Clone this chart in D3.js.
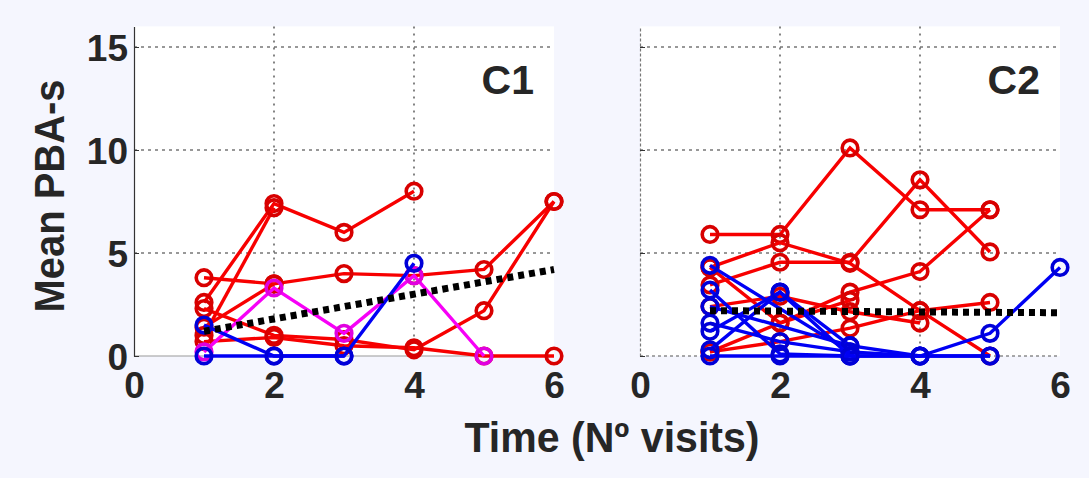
<!DOCTYPE html>
<html>
<head>
<meta charset="utf-8">
<script src="https://cdn.jsdelivr.net/npm/d3@7"></script>
<style>
  body { margin: 0; background: #f5f6fe; }
  svg { display: block; font-family: "Liberation Sans", Arial, sans-serif; }
</style>
</head>
<body>
<svg width="1089" height="478"></svg>
<script>
const visits = [1, 2, 3, 4, 5, 6];
const xTicks = [0, 2, 4, 6];
const yTicks = [0, 5, 10, 15];

// C1 panel, one row per patient, null = no visit
const c1Red = [
  [3.8, 3.5, 4.0, 3.9, 4.2, 7.5],
  [2.6, 7.4, 6.0, 8.0, null, null],
  [1.0, 7.2, null, null, null, null],
  [2.3, 1.0, 0.8, 0.3, 2.2, 7.5],
  [0.7, 0.9, 0.5, 0.4, 0.0, 0.0],
  [1.4, 3.5, null, null, null, null]
];
const c1Magenta = [
  [0.2, 3.3, 1.1, 3.9, 0.0, null]
];
const c1Blue = [
  [1.5, 0.0, 0.0, 4.5, null, null],
  [0.0, 0.0, 0.0, null, null, null]
];
const c1Trend = [1.2, null, null, null, null, 4.2];

// C2 panel
const c2Red = [
  [5.9, 5.9, 10.1, 7.1, 7.1, null],
  [3.45, 4.55, 4.55, 8.55, 5.05, null],
  [4.3, 5.5, 4.5, 2.2, 0.0, null],
  [4.3, 1.6, 3.1, 4.1, 7.1, null],
  [0.2, 0.7, 1.35, 2.2, 2.6, null],
  [2.4, 2.9, 2.15, 1.6, null, null],
  [0.2, 1.6, 2.7, null, null, null]
];
const c2Magenta = [];
const c2Blue = [
  [4.4, null, 0.2, 0.0, null, null],
  [0.3, 3.1, 0.5, 0.0, 1.1, 4.3],
  [2.4, null, 0.5, null, null, null],
  [3.2, 0.1, 0.0, 0.0, 0.0, null],
  [1.6, 0.7, 0.2, null, null, null],
  [1.2, 3.1, 0.0, null, null, null],
  [0.0, 0.0, 0.0, 0.0, 0.0, null]
];
const c2Trend = [2.2, null, null, null, null, 2.1];

const svg = d3.select("svg");
svg.append("rect").attr("width", 1089).attr("height", 478).attr("fill", "#f5f6fe");

const y = d3.scaleLinear().domain([0, 16]).range([356, 26.4]);
const textCol = "#262626";

function pts(row) {
  return row.map((v, i) => [visits[i], v]).filter(d => d[1] != null);
}

function panel(x0, x1, name, red, magenta, blue, trend, first) {
  const x = d3.scaleLinear().domain([0, 6]).range([x0, x1]);
  const g = svg.append("g");

  g.append("rect")
    .attr("x", x0).attr("y", y(16))
    .attr("width", x1 - x0).attr("height", y(0) - y(16))
    .attr("fill", "#fff");

  // grid
  g.selectAll(".hg").data([5, 10, 15]).join("line")
    .attr("x1", x0).attr("x2", x1)
    .attr("y1", d => y(d)).attr("y2", d => y(d))
    .attr("stroke", "#333").attr("stroke-width", 1.2)
    .attr("stroke-dasharray", "3,4");
  g.selectAll(".vg").data([2, 4]).join("line")
    .attr("x1", d => x(d)).attr("x2", d => x(d))
    .attr("y1", y(16)).attr("y2", y(0))
    .attr("stroke", "#333").attr("stroke-width", 1.2)
    .attr("stroke-dasharray", "2,5");

  // bottom edge
  g.append("line")
    .attr("x1", x0).attr("x2", x1).attr("y1", y(0)).attr("y2", y(0))
    .attr("stroke", first ? "#999" : "#555").attr("stroke-width", 1.2)
    .attr("stroke-dasharray", first ? null : "3,3");

  // left axis
  const yAxis = d3.axisLeft(y).tickValues(yTicks)
    .tickSizeInner(-5).tickSizeOuter(0).tickPadding(6)
    .tickFormat(first ? d3.format("d") : "");
  const ya = g.append("g").attr("transform", `translate(${x0},0)`).call(yAxis);
  ya.select(".domain").attr("stroke", first ? "#333" : "#777")
    .attr("stroke-width", 1.2).attr("stroke-dasharray", first ? null : "3,2");
  ya.selectAll(".tick line").attr("stroke", "#333");
  ya.selectAll("text").attr("font-size", 37).attr("font-weight", "bold")
    .attr("fill", textCol).attr("dy", "0.36em");

  // x axis labels
  const xa = g.append("g").attr("transform", `translate(0,${y(0)})`)
    .call(d3.axisBottom(x).tickValues(xTicks).tickSize(0).tickPadding(16).tickFormat(d3.format("d")));
  xa.select(".domain").remove();
  xa.selectAll("text").attr("font-size", 37).attr("font-weight", "bold").attr("fill", textCol);

  const line = d3.line().x(d => x(d[0])).y(d => y(d[1]));

  function series(rows, col, rim) {
    rows.forEach(row => {
      const p = pts(row);
      const s = g.append("g");
      s.append("path").attr("d", line(p))
        .attr("fill", "none").attr("stroke", col).attr("stroke-width", 3.4);
      s.selectAll("circle").data(p).join("circle")
        .attr("cx", d => x(d[0])).attr("cy", d => y(d[1])).attr("r", 7.8)
        .attr("fill", "none").attr("stroke", rim).attr("stroke-width", 3.6);
    });
  }
  series(red, "#f70000", "#d80000");
  series(magenta, "#f700f7", "#e000e0");
  series(blue, "#0000f4", "#0000d8");

  g.append("path").attr("d", line(pts(trend)))
    .attr("fill", "none").attr("stroke", "#000").attr("stroke-width", 7)
    .attr("stroke-dasharray", "6,5");

  g.append("text")
    .attr("x", x1 - 20).attr("y", 94)
    .attr("text-anchor", "end").attr("font-size", 41).attr("font-weight", "bold")
    .attr("fill", textCol).text(name);
}

panel(134, 554, "C1", c1Red, c1Magenta, c1Blue, c1Trend, true);
panel(640, 1060, "C2", c2Red, c2Magenta, c2Blue, c2Trend, false);

svg.append("text")
  .attr("transform", "translate(64,196) rotate(-90)")
  .attr("text-anchor", "middle").attr("font-size", 42).attr("font-weight", "bold")
  .attr("fill", textCol).attr("textLength", 233).attr("lengthAdjust", "spacingAndGlyphs")
  .text("Mean PBA-s");

svg.append("text")
  .attr("x", 612).attr("y", 452)
  .attr("text-anchor", "middle").attr("font-size", 42).attr("font-weight", "bold")
  .attr("fill", textCol).attr("textLength", 295).attr("lengthAdjust", "spacingAndGlyphs")
  .text("Time (Nº visits)");
</script>
</body>
</html>
